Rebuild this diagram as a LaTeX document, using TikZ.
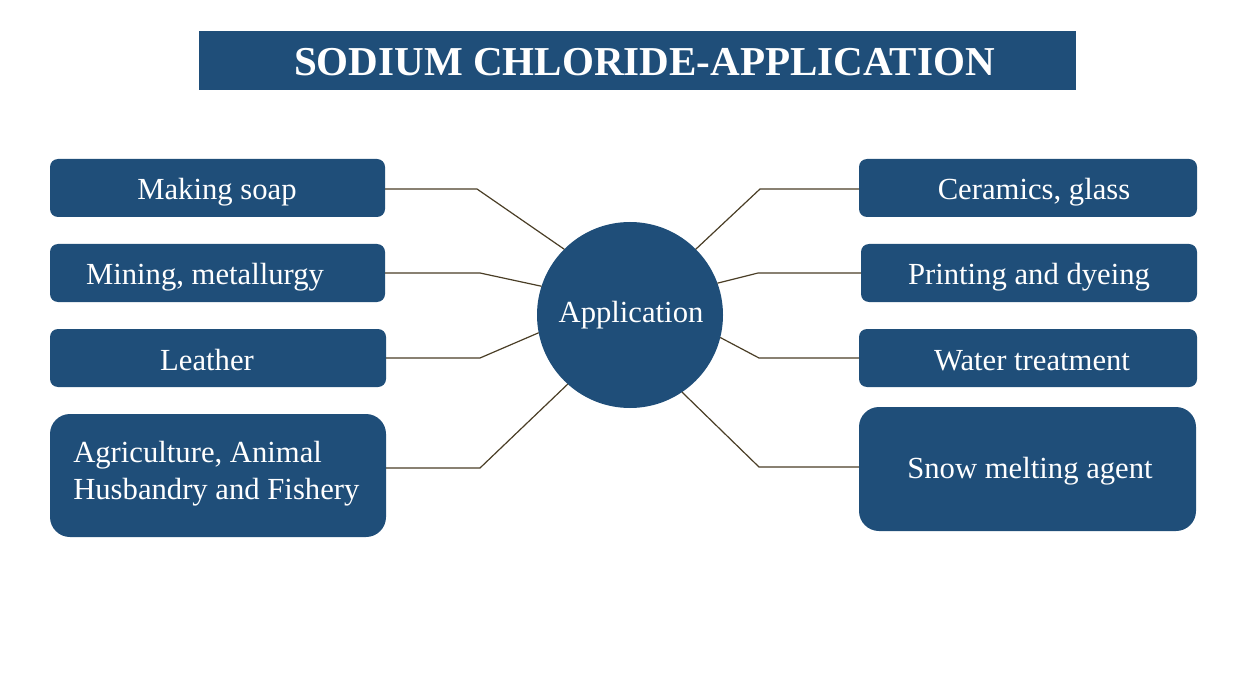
\documentclass[tikz,border=0pt]{standalone}
\usepackage{fontspec}
\setmainfont{Liberation Serif}
\definecolor{navy}{RGB}{31,78,121}
\definecolor{conncol}{RGB}{74,62,38}
\begin{document}
\begin{tikzpicture}[x=0.75pt,y=-0.75pt,
  box/.style={fill=navy,draw=none,rounded corners=6pt,inner sep=0pt,outer sep=0pt,minimum height=43.5pt},
  bigbox/.style={fill=navy,draw=none,rounded corners=15pt,inner sep=0pt,outer sep=0pt},
  lbl/.style={text=white,anchor=base,inner sep=0pt,font=\fontsize{23}{28}\selectfont},
  conn/.style={draw=conncol,line width=0.9pt}]
\useasboundingbox (0,0) rectangle (1238,695);
% title
\node[fill=navy,inner sep=0pt,minimum width=657.75pt,minimum height=44.25pt] (title) at (637.5,60.5) {};
\node[text=white,anchor=base,inner sep=0pt,font=\fontsize{30.8}{36}\selectfont\bfseries] (titletxt) at (644.5,76) {SODIUM CHLORIDE-APPLICATION};
% centre
\node[circle,fill=navy,inner sep=0pt,outer sep=0pt,minimum size=139.5pt] (app) at (630,315) {};
\node[lbl] (apptxt) at (631,322) {Application};
% left boxes
\node[box,minimum width=251.25pt] (b1) at (217.5,188) {};
\node[box,minimum width=251.25pt] (b2) at (217.5,273) {};
\node[box,minimum width=252pt] (b3) at (218,358) {};
\node[bigbox,minimum width=252pt,minimum height=92.25pt] (b4) at (218,475.5) {};
\node[lbl] (t1) at (217,200) {Making soap};
\node[lbl] (t2) at (205,285) {Mining, metallurgy};
\node[lbl] (t3) at (207,370) {Leather};
\node[text=white,anchor=base west,inner sep=0pt,align=left,font=\fontsize{23}{27.75}\selectfont] (t4) at (73,499) {Agriculture, Animal\\Husbandry and Fishery};
% right boxes
\node[box,minimum width=253.5pt] (b5) at (1028,188) {};
\node[box,minimum width=252pt] (b6) at (1029,273) {};
\node[box,minimum width=253.5pt] (b7) at (1028,358) {};
\node[bigbox,minimum width=252.75pt,minimum height=93pt] (b8) at (1027.5,469) {};
\node[lbl] (t5) at (1034,200) {Ceramics, glass};
\node[lbl] (t6) at (1029,285) {Printing and dyeing};
\node[lbl] (t7) at (1032,370) {Water treatment};
\node[lbl] (t8) at (1030,478) {Snow melting agent};
% elbows
\coordinate (l1) at (477,189);
\coordinate (l2) at (480,273);
\coordinate (l3) at (480,358);
\coordinate (l4) at (480,468);
\coordinate (r1) at (760,189);
\coordinate (r2) at (758,273);
\coordinate (r3) at (759,358);
\coordinate (r4) at (759,467);
% connectors
\draw[conn] (l1 -| b1.east) -- (l1) -- (app.135);
\draw[conn] (l2 -| b2.east) -- (l2) -- (app.162);
\draw[conn] (l3 -| b3.east) -- (l3) -- (app.191);
\draw[conn] (l4 -| b4.east) -- (l4) -- (app.228);
\draw[conn] (r1 -| b5.west) -- (r1) -- (app.45);
\draw[conn] (r2 -| b6.west) -- (r2) -- (app.20);
\draw[conn] (r3 -| b7.west) -- (r3) -- (app.346);
\draw[conn] (r4 -| b8.west) -- (r4) -- (app.304);
\end{tikzpicture}
\end{document}
